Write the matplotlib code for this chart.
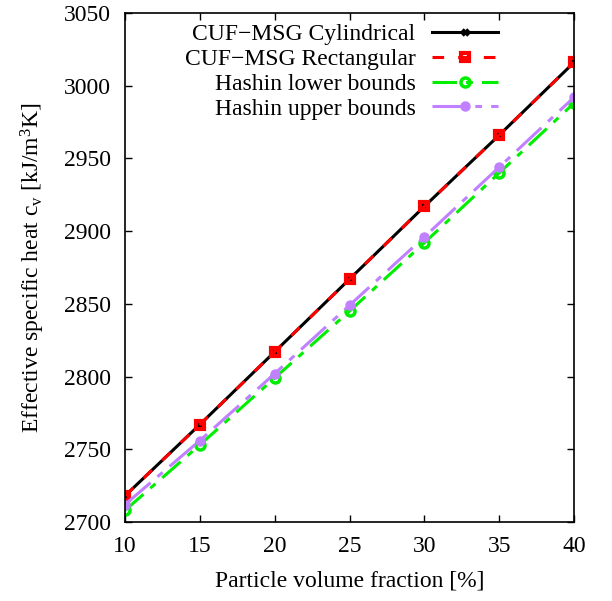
import matplotlib
matplotlib.use('Agg')
import matplotlib.pyplot as plt

plt.rcParams['font.family'] = ['Liberation Serif', 'DejaVu Serif']
plt.rcParams['mathtext.fontset'] = 'custom'
plt.rcParams['mathtext.rm'] = 'Liberation Serif'
plt.rcParams['mathtext.it'] = 'Liberation Serif:italic'

vol_frac = [10, 15, 20, 25, 30, 35, 40]
cuf_cyl = [2718, 2767, 2817, 2867, 2917, 2966, 3016]
cuf_rect = [2718, 2767, 2817, 2867, 2917, 2966, 3016]
hashin_lo = [2708, 2753, 2799, 2845, 2892, 2940, 2988]
hashin_up = [2712, 2756, 2802, 2849, 2896, 2944, 2992]
xticks = [10, 15, 20, 25, 30, 35, 40]
yticks = [2700, 2750, 2800, 2850, 2900, 2950, 3000, 3050]

FS = 17
LW = 2.2

fig = plt.figure(figsize=(6.12, 6.01), dpi=100)
ax = fig.add_axes([125/612, 1-522/601, 449/612, 509/601])

ax.plot(vol_frac, cuf_cyl, color='black', lw=LW, marker='x', ms=5, mew=2.5,
        label='CUF\u2212MSG Cylindrical')
ax.plot(vol_frac, cuf_rect, color='#ff0000', lw=LW, dashes=(3.8, 4.6),
        marker='s', ms=6, mew=3, mfc='none',
        label='CUF\u2212MSG Rectangular')
ax.plot(vol_frac, hashin_lo, color='#00ee00', lw=LW, dashes=(8, 3.0, 2.2, 3.0),
        marker='o', ms=6.5, mew=2.5, mfc='none',
        label='Hashin lower bounds')
ax.plot(vol_frac, hashin_up, color='#c080ff', lw=LW, dashes=(11, 3.0, 2.2, 3.0),
        marker='o', ms=6.5, label='Hashin upper bounds')

ax.set_xlim(10, 40); ax.set_ylim(2700, 3050)
ax.set_xticks(xticks); ax.set_yticks(yticks)
ax.tick_params(direction='in', length=5, width=1, top=True, right=True,
               labelsize=FS, pad=10)
for sp in ax.spines.values(): sp.set_linewidth(1.2)
ax.set_xlabel('Particle volume fraction [%]', fontsize=FS, labelpad=10)
ax.set_ylabel('Effective specific heat c$_{\\mathrm{v}}$ [kJ/m$^{3}$K]',
              fontsize=FS, labelpad=12)

ax.legend(loc='upper right', bbox_to_anchor=(0.83, 0.979), frameon=False,
          markerfirst=False, fontsize=FS, handlelength=2.8, handletextpad=0.68,
          labelspacing=0.14, borderpad=0, borderaxespad=0)

plt.savefig('out.png', dpi=100)
plt.close()
